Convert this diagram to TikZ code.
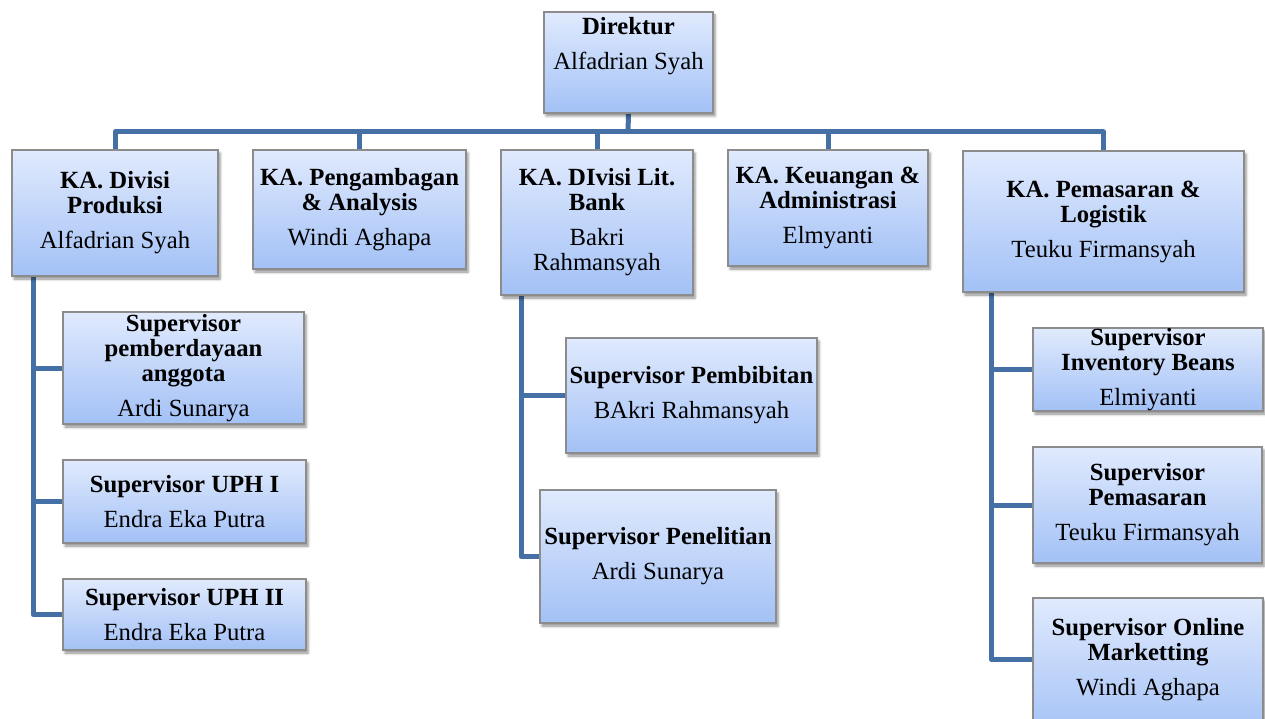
\documentclass[tikz,border=0pt]{standalone}
\usepackage{fontspec}
\setmainfont{Liberation Serif}
\usetikzlibrary{shadows.blur,calc,backgrounds}
\definecolor{boxtop}{HTML}{E0EAFD}
\definecolor{boxbot}{HTML}{A3C1F6}
\definecolor{boxline}{HTML}{8C8C8C}
\definecolor{connc}{HTML}{4470A6}
\tikzset{
  orgbox/.style={draw=boxline, line width=1.1pt, top color=boxtop, bottom color=boxbot,
    inner sep=0pt, outer sep=0pt, anchor=north west,
    blur shadow={shadow xshift=2pt, shadow yshift=-3pt, shadow blur radius=2.5pt, shadow opacity=45}},
  orgtext/.style={align=center, inner sep=0pt, font=\fontsize{24.7}{25}\selectfont},
  link/.style={draw=connc, line width=5pt, line join=round}
}
\begin{document}
\begin{tikzpicture}[x=1pt,y=-1pt]
\useasboundingbox (0,0) rectangle (1265,719);
% boxes
\node[orgbox, minimum width=169pt, minimum height=101pt] (dir) at (544,12) {};
\node[orgbox, minimum width=206pt, minimum height=126pt] (d1) at (12,150) {};
\node[orgbox, minimum width=213pt, minimum height=119pt] (d2) at (253,150) {};
\node[orgbox, minimum width=192pt, minimum height=145pt] (d3) at (501,150) {};
\node[orgbox, minimum width=200pt, minimum height=116pt] (d4) at (728,150) {};
\node[orgbox, minimum width=281pt, minimum height=141pt] (d5) at (963,151) {};
\node[orgbox, minimum width=241pt, minimum height=112pt] (s11) at (63,312) {};
\node[orgbox, minimum width=243pt, minimum height=83pt] (s12) at (63,460) {};
\node[orgbox, minimum width=243pt, minimum height=71pt] (s13) at (63,579) {};
\node[orgbox, minimum width=251pt, minimum height=115pt] (s31) at (566,338) {};
\node[orgbox, minimum width=236pt, minimum height=133pt] (s32) at (540,490) {};
\node[orgbox, minimum width=230pt, minimum height=83pt] (s51) at (1033,328) {};
\node[orgbox, minimum width=229pt, minimum height=116pt] (s52) at (1033,447) {};
\node[orgbox, minimum width=230pt, minimum height=140pt] (s53) at (1033,598) {};
% texts
\node[orgtext] (tdir) at ($(dir.center)+(0,-16)$) {\textbf{Direktur}\\[10pt]Alfadrian Syah};
\node[orgtext] (td1) at (d1.center) {\textbf{KA. Divisi}\\\textbf{Produksi}\\[10pt]Alfadrian Syah};
\node[orgtext] (td2) at (d2.center) {\textbf{KA. Pengambagan}\\\textbf{\& Analysis}\\[10pt]Windi Aghapa};
\node[orgtext] (td3) at (d3.center) {\textbf{KA. DIvisi Lit.}\\\textbf{Bank}\\[10pt]Bakri\\Rahmansyah};
\node[orgtext] (td4) at (d4.center) {\textbf{KA. Keuangan \&}\\\textbf{Administrasi}\\[10pt]Elmyanti};
\node[orgtext] (td5) at (d5.center) {\textbf{KA. Pemasaran \&}\\\textbf{Logistik}\\[10pt]Teuku Firmansyah};
\node[orgtext] (ts11) at (s11.center) {\textbf{Supervisor}\\\textbf{pemberdayaan}\\\textbf{anggota}\\[10pt]Ardi Sunarya};
\node[orgtext] (ts12) at (s12.center) {\textbf{Supervisor UPH I}\\[10pt]Endra Eka Putra};
\node[orgtext] (ts13) at (s13.center) {\textbf{Supervisor UPH II}\\[10pt]Endra Eka Putra};
\node[orgtext] (ts31) at (s31.center) {\textbf{Supervisor Pembibitan}\\[10pt]BAkri Rahmansyah};
\node[orgtext] (ts32) at (s32.center) {\textbf{Supervisor Penelitian}\\[10pt]Ardi Sunarya};
\node[orgtext] (ts51) at (s51.center) {\textbf{Supervisor}\\\textbf{Inventory Beans}\\[10pt]Elmiyanti};
\node[orgtext] (ts52) at (s52.center) {\textbf{Supervisor}\\\textbf{Pemasaran}\\[10pt]Teuku Firmansyah};
\node[orgtext] (ts53) at ($(s53.north)+(0,62)$) {\textbf{Supervisor Online}\\\textbf{Marketting}\\[10pt]Windi Aghapa};
% connectors
\coordinate (bus) at (628,132);
\coordinate (tr1) at ($(d1.south west)+(21,0)$);
\coordinate (tr3) at ($(d3.south west)+(20,0)$);
\coordinate (tr5) at ($(d5.south west)+(28,0)$);
\coordinate (s53w) at ($(s53.north west)+(0,61)$);
\begin{scope}[on background layer]
\draw[link] (dir.south) -- (bus);
\draw[link] (d1.north) |- (bus) -| (d5.north);
\draw[link] (d2.north) -- (d2.north |- bus);
\draw[link] (d3.north) -- (d3.north |- bus);
\draw[link] (d4.north) -- (d4.north |- bus);
\draw[link] (tr1) |- (s13.west);
\draw[link] (s11.west) -- (s11.west -| tr1);
\draw[link] (s12.west) -- (s12.west -| tr1);
\draw[link] (tr3) |- (s32.west);
\draw[link] (s31.west) -- (s31.west -| tr3);
\draw[link] (tr5) |- (s53w);
\draw[link] (s51.west) -- (s51.west -| tr5);
\draw[link] (s52.west) -- (s52.west -| tr5);
\end{scope}
\end{tikzpicture}
\end{document}
